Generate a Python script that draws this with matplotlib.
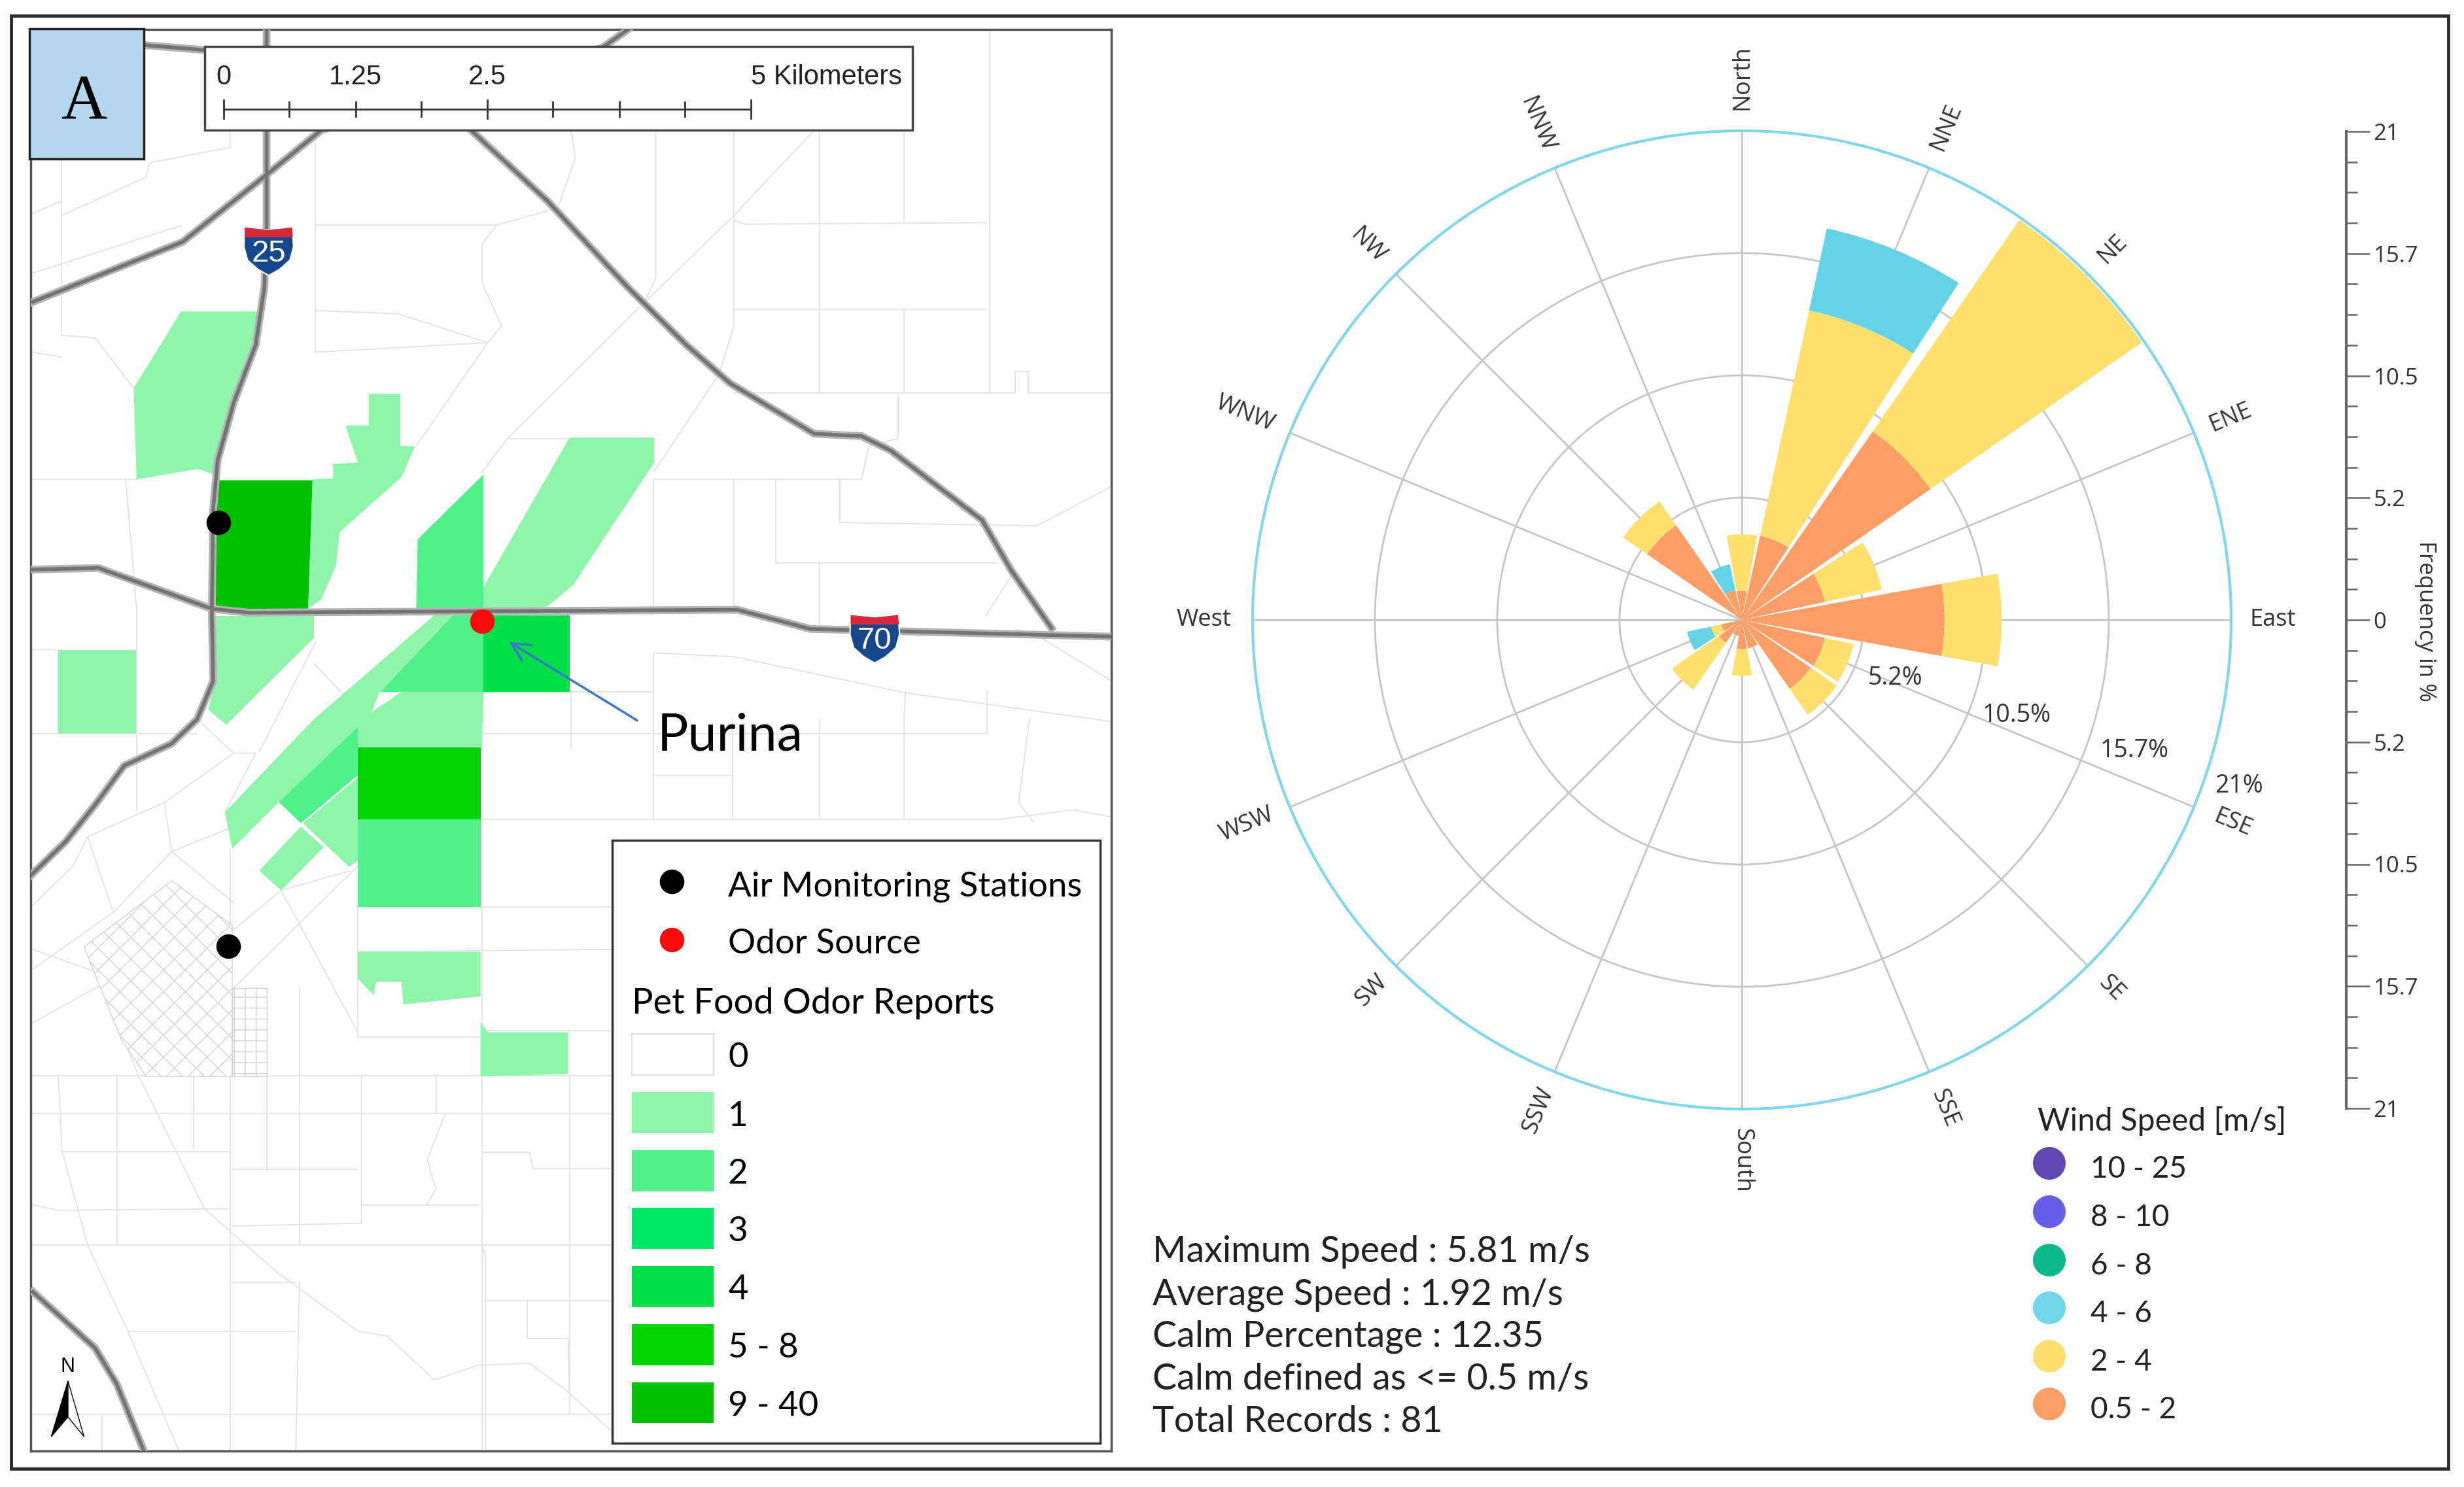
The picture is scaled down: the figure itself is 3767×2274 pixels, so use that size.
import numpy as np
import matplotlib
matplotlib.use('Agg')
import matplotlib.pyplot as plt
from matplotlib.patches import Polygon, Rectangle, Circle

W, H = 3767, 2274

# wind rose, percent per direction class, clockwise from north
DIRECTIONS = ['North', 'NNE', 'NE', 'ENE', 'East', 'ESE', 'SE', 'SSE',
              'South', 'SSW', 'SW', 'WSW', 'West', 'WNW', 'NW', 'NNW']
SPEED_05_2 = [1.25, 3.7, 9.85, 3.65, 8.7, 3.65, 3.6, 1.25, 1.25, 0.7, 1.2, 0.9, 0, 0, 4.95, 1.3]
SPEED_2_4 = [2.42, 9.9, 11.05, 2.5, 2.45, 1.25, 1.35, 0, 1.15, 0, 2.45, 0.45, 0, 0, 1.25, 0]
SPEED_4_6 = [0, 3.6, 0, 0, 0, 0, 0, 0, 0, 0, 0, 1.05, 0, 0, 0, 1.15]
RINGS = [5.25, 10.5, 15.75, 21]
RING_LABELS = ['5.2%', '10.5%', '15.7%', '21%']
FREQ_TICKS = [21, 15.75, 10.5, 5.25, 0, -5.25, -10.5, -15.75, -21]
FREQ_LABELS = ['21', '15.7', '10.5', '5.2', '0', '5.2', '10.5', '15.7', '21']
WIND_CLASSES = ['10 - 25', '8 - 10', '6 - 8', '4 - 6', '2 - 4', '0.5 - 2']
WIND_COLORS = ['#6048b0', '#6660e8', '#0cb88c', '#70d6e8', '#ffdf6e', '#ff9e66']
STATS = ['Maximum Speed : 5.81 m/s', 'Average Speed : 1.92 m/s', 'Calm Percentage : 12.35',
         'Calm defined as <= 0.5 m/s', 'Total Records : 81']

# map legend
REPORT_CLASSES = ['0', '1', '2', '3', '4', '5 - 8', '9 - 40']
C0, C1, C2, C3, C4, C5, C6 = '#ffffff', '#8ff5a8', '#52f08a', '#00e868', '#00de4a', '#00d400', '#00c000'
REPORT_COLORS = [C0, C1, C2, C3, C4, C5, C6]

# the map is kept in its own units, y grows downwards
ZONES = [
    (C1, [(248, 650), (355, 650), (348, 730), (320, 840), (300, 940), (292, 990), (272, 978), (187, 1000), (183, 810)]),
    (C6, [(298, 1002), (428, 1002), (422, 1270), (295, 1270), (295, 1100)]),
    (C1, [(505, 822), (548, 822), (548, 930), (568, 932), (550, 995), (465, 1110), (460, 1180), (440, 1250),
          (422, 1270), (428, 1000), (456, 998), (456, 968), (490, 965), (473, 888), (505, 888)]),
    (C2, [(662, 990), (662, 1270), (570, 1270), (572, 1125)]),
    (C1, [(780, 913), (896, 913), (896, 965), (785, 1220), (750, 1265), (662, 1275), (662, 1225)]),
    (C4, [(662, 1283), (780, 1283), (780, 1443), (662, 1443)]),
    (C1, [(295, 1285), (430, 1285), (430, 1330), (310, 1512), (285, 1480), (295, 1420)]),
    (C1, [(80, 1356), (186, 1356), (186, 1530), (80, 1530)]),
    (C1, [(308, 1694), (318, 1770), (382, 1673), (505, 1500), (520, 1443), (620, 1283), (595, 1283), (430, 1500)]),
    (C2, [(620, 1283), (662, 1283), (662, 1443), (520, 1443)]),
    (C2, [(505, 1495), (490, 1560), (490, 1617), (412, 1717), (382, 1673)]),
    (C1, [(490, 1622), (415, 1717), (478, 1808), (490, 1795)]),
    (C1, [(355, 1816), (385, 1857), (443, 1767), (412, 1724)]),
    (C1, [(550, 1443), (662, 1443), (660, 1559), (490, 1559), (490, 1505)]),
    (C5, [(490, 1559), (658, 1559), (658, 1709), (490, 1709)]),
    (C2, [(490, 1709), (658, 1709), (658, 1891), (490, 1891)]),
    (C1, [(490, 1985), (658, 1985), (658, 2078), (552, 2095), (550, 2048), (515, 2048), (512, 2076), (490, 2041)]),
    (C1, [(658, 2132), (668, 2153), (778, 2153), (778, 2240), (658, 2245)]),
]

HIGHWAYS = [
    [(365, 62), (365, 470), (362, 600), (350, 720), (320, 840), (298, 960), (292, 1060), (290, 1280), (292, 1420),
     (270, 1500), (235, 1551), (170, 1597), (130, 1679), (90, 1755), (42, 1826)],
    [(45, 630), (250, 505), (365, 365), (440, 272), (825, 100), (860, 62)],
    [(200, 95), (280, 105)],
    [(645, 272), (750, 420), (860, 600), (940, 720), (1000, 800), (1115, 905), (1180, 910), (1220, 940), (1345, 1085),
     (1385, 1190), (1440, 1310)],
    [(45, 1188), (135, 1185), (290, 1270), (340, 1278), (1010, 1272), (1110, 1312), (1522, 1328)],
    [(45, 2694), (130, 2811), (160, 2887), (197, 3026)],
]

ROADS = [
    [(432, 272), (432, 735)], [(432, 470), (680, 470), (750, 440)],
    [(680, 470), (660, 510), (660, 590), (687, 680), (668, 715), (432, 735)],
    [(432, 648), (545, 655), (668, 715)], [(668, 715), (570, 930)],
    [(782, 272), (788, 330), (765, 430)], [(898, 272), (898, 580), (880, 640)],
    [(1115, 272), (1005, 450), (870, 650), (695, 915), (660, 985)], [(695, 915), (780, 915)],
    [(1005, 272), (1005, 680), (985, 780), (895, 985)], [(1005, 460), (1020, 468), (1352, 465)],
    [(1005, 645), (1352, 645)], [(1122, 272), (1122, 820)], [(1238, 272), (1238, 465)], [(1238, 645), (1238, 820)],
    [(1355, 62), (1355, 820)],
    [(1005, 820), (1390, 820), (1390, 775), (1408, 775), (1408, 820), (1522, 820)],
    [(895, 1000), (1180, 1000), (1190, 930), (1230, 915), (1230, 820)],
    [(1062, 1000), (1062, 1175), (1365, 1175)], [(1150, 1000), (1150, 1090), (1420, 1097), (1522, 1015)],
    [(895, 1000), (895, 1272)], [(1005, 1000), (1005, 1272)], [(1122, 1175), (1122, 1312)], [(1350, 1285), (1390, 1190)],
    [(45, 1000), (187, 1000)], [(172, 1000), (187, 1270)], [(45, 1355), (80, 1355)], [(187, 1272), (187, 1690)],
    [(84, 62), (84, 700), (130, 705), (183, 810)], [(45, 735), (84, 745)],
    [(84, 450), (200, 370), (205, 340), (315, 308), (315, 272)], [(45, 445), (84, 420)], [(45, 570), (250, 470)],
    [(315, 100), (315, 272)], [(45, 1530), (80, 1530)], [(190, 1530), (270, 1530)],
    [(430, 1385), (500, 1495)], [(432, 1340), (355, 1568)],
    [(1522, 1420), (1420, 1325)], [(895, 1362), (1005, 1370), (1240, 1445), (1522, 1505)],
    [(782, 1443), (782, 1560)], [(660, 1443), (895, 1443)], [(895, 1362), (895, 1709)],
    [(660, 1531), (1352, 1531)], [(660, 1709), (1370, 1709), (1470, 1689), (1522, 1704)], [(897, 1617), (1003, 1617)],
    [(1003, 1500), (1003, 1709)], [(1122, 1500), (1122, 1709)], [(1238, 1500), (1238, 1709)], [(1352, 1440), (1352, 1531)],
    [(1410, 1500), (1395, 1674), (1415, 1714)], [(1240, 1445), (1238, 1500)],
    [(490, 1891), (838, 1891)], [(490, 1985), (838, 1980)], [(658, 2150), (838, 2150)], [(490, 1891), (490, 2163)],
    [(490, 2163), (658, 2163)], [(660, 1891), (660, 3026)],
    [(45, 2243), (838, 2243)], [(45, 2322), (838, 2322)], [(85, 2401), (315, 2401)],
    [(660, 2403), (725, 2403), (730, 2437), (838, 2437)], [(45, 2513), (80, 2524), (315, 2521)], [(495, 2513), (655, 2513)],
    [(45, 2597), (838, 2597)], [(315, 1770), (315, 3026)], [(160, 2245), (160, 2597)], [(265, 2245), (265, 2398)],
    [(365, 2245), (365, 2439)], [(318, 2439), (490, 2439)], [(410, 2061), (410, 2597)], [(410, 2674), (405, 3026)],
    [(495, 2245), (495, 2551), (318, 2557)], [(597, 2245), (597, 2322)], [(610, 2322), (585, 2419), (597, 2480), (585, 2511)],
    [(80, 2245), (85, 2401), (120, 2597), (175, 2776), (245, 3026)],
    [(160, 2133), (190, 2245), (280, 2521), (380, 2654), (490, 2776), (530, 2786), (595, 2878), (655, 2847), (725, 2843),
     (775, 2899), (838, 2985)],
    [(175, 2776), (405, 2776)], [(315, 2674), (405, 2674)], [(660, 2597), (665, 2623), (665, 3026)],
    [(665, 2712), (838, 2712)], [(722, 2712), (722, 2791), (778, 2791), (780, 2929)], [(780, 2245), (780, 2950)],
    [(45, 2950), (838, 2950)], [(140, 2950), (140, 3026)],
    [(45, 1888), (100, 1806), (120, 1745), (180, 1704), (225, 1674), (320, 1571), (270, 1500)],
    [(225, 1674), (235, 1776), (320, 1724)], [(235, 1776), (155, 1903), (45, 2021)], [(120, 1745), (155, 1903)],
    [(235, 1776), (320, 1883)], [(320, 1939), (385, 1857), (480, 1816)], [(320, 2061), (432, 1893), (490, 1806)],
    [(385, 1857), (490, 2153)], [(320, 1571), (350, 1571), (308, 1694)], [(45, 1980), (155, 2040), (160, 2133)],
    [(45, 2133), (155, 2040)],
]
DOWNTOWN = [(115, 1975), (235, 1837), (318, 1930), (318, 2245), (200, 2245), (165, 2165)]
OLD_GRID = [(318, 2061), (365, 2061), (365, 2245), (318, 2245)]
SHIELD = [(0, 0), (33, 5), (65, 0), (67, 40), (62, 68), (48, 87), (33, 100), (18, 87), (4, 68), (-1, 40)]
SHIELD_TOPS = [(335, 475, '25'), (1165, 1283, '70')]
STATIONS = [(299, 1090), (313, 1973)]
ODOR_SOURCE = (660, 1296)

lato = 'Lato'
opensans = 'Open Sans'

fig = plt.figure(figsize=(W / 100, H / 100), dpi=100)
plt.rcParams['hatch.linewidth'] = 1.0

# page frame, stats and wind legend, in pixels
page = fig.add_axes([0, 0, 1, 1])
page.set_xlim(0, W)
page.set_ylim(H, 0)
page.axis('off')
page.add_patch(Rectangle((17, 24), 3726, 2222, fc='white', ec='#2a2a2a', lw=3.5))
for i, line in enumerate(STATS):
    page.text(1762, [1915, 1980, 2044, 2110, 2175][i], line, fontsize=40, family=lato, va='center', color='#222222')
page.text(3115, 1714, 'Wind Speed [m/s]', fontsize=34.5, family=lato, va='center', color='#222222')
for name, color, y in zip(WIND_CLASSES, WIND_COLORS, [1779, 1853, 1927, 2000, 2074, 2147]):
    page.add_patch(Circle((3133, y), 25, fc=color, ec='none'))
    page.text(3196, y + 9, name, fontsize=33, family=lato, va='center', color='#222222')
page.text(3708, 950, 'Frequency in %', fontsize=25, family=opensans, rotation=-90, ha='center', va='center', color='#333333')

# map
mp = fig.add_axes([47 / W, 1 - 2219 / H, (1699 - 47) / W, (2219 - 45) / H])
mp.set_xlim(42, 1522)
mp.set_ylim(3026, 62)
mp.set_xticks([])
mp.set_yticks([])
for s in mp.spines.values():
    s.set_color('#555555')
    s.set_linewidth(2.5)
for road in ROADS:
    xs, ys = zip(*road)
    mp.plot(xs, ys, color='#e0e0e0', lw=1.2, zorder=1, solid_capstyle='round')
mp.add_patch(Polygon(DOWNTOWN, fc='white', ec='#d2d2d2', hatch='x', lw=1, zorder=1.5))
mp.add_patch(Polygon(OLD_GRID, fc='white', ec='#d2d2d2', hatch='+', lw=1, zorder=1.5))
for color, pts in ZONES:
    mp.add_patch(Polygon(pts, fc=color, ec='none', zorder=2))
for hw in HIGHWAYS:
    xs, ys = zip(*hw)
    mp.plot(xs, ys, color='#b4b4b4', lw=8.5, zorder=3)
    mp.plot(xs, ys, color='#747474', lw=4, zorder=3.1)
for x0, y0, num in SHIELD_TOPS:
    body = [(x0 + dx, y0 + dy) for dx, dy in SHIELD]
    mp.add_patch(Polygon(body, fc='#17488c', ec='white', lw=1.5, zorder=4))
    mp.add_patch(Polygon([(x0, y0), (x0 + 33, y0 + 5), (x0 + 65, y0), (x0 + 66, y0 + 20), (x0, y0 + 20)],
                         fc='#d8263a', ec='none', zorder=4.1))
    mp.text(x0 + 33, y0 + 54, num, color='white', fontsize=34, family='Liberation Sans', ha='center', va='center', zorder=4.2)
mp.plot(*zip(*STATIONS), 'o', color='black', ms=27, mec='none', zorder=5)
mp.plot(*ODOR_SOURCE, 'o', color='#fb0a0a', ms=27, mec='none', zorder=5)
mp.annotate('', xy=(695, 1337), xytext=(875, 1505),
            arrowprops=dict(arrowstyle='->', color='#3a78c8', lw=2.5, mutation_scale=50), zorder=5)
mp.text(900, 1535, 'Purina', fontsize=57, family=lato, va='center', color='black', zorder=5)

# north arrow
mp.text(93, 2850, 'N', fontsize=22, family='Liberation Sans', ha='center', va='center', zorder=5)
mp.add_patch(Polygon([(93, 2880), (70, 2996), (93, 2955)], fc='black', ec='black', lw=1, zorder=5))
mp.add_patch(Polygon([(93, 2880), (115, 2996), (93, 2955)], fc='white', ec='black', lw=1, zorder=5))

# blue A box and scale bar
mp.add_patch(Rectangle((40, 60), 157, 272, fc='#b4d7ee', ec='#222222', lw=2.5, zorder=6, clip_on=False))
mp.text(116, 215, 'A', fontsize=70, family='Liberation Serif', ha='center', va='center', zorder=6.1)
mp.add_patch(Rectangle((280, 98), 970, 174, fc='white', ec='#444444', lw=2.5, zorder=6))
scale_x = [306, 396, 487, 577, 667, 757, 848, 938, 1028]
mp.plot([scale_x[0], scale_x[-1]], [228, 228], color='#333333', lw=2, zorder=6.1)
for i, x in enumerate(scale_x):
    half = 19 if i % 4 == 0 else 15
    mp.plot([x, x], [228 - half, 228 + half], color='#333333', lw=2, zorder=6.1)
for x, txt in zip([306, 487, 667], ['0', '1.25', '2.5']):
    mp.text(x, 162, txt, fontsize=30, family='Liberation Sans', ha='center', va='center', color='#222222', zorder=6.1)
mp.text(1235, 162, '5 Kilometers', fontsize=30, family='Liberation Sans', ha='right', va='center', color='#222222', zorder=6.1)

# map legend
mp.add_patch(Rectangle((838, 1752), 669, 1257, fc='white', ec='#333333', lw=2.5, zorder=7))
leg_y = lambda v: 1500 + 1.0209 * v
mp.plot(920, leg_y(331), 'o', color='black', ms=27, mec='none', zorder=7.1)
mp.plot(920, leg_y(450), 'o', color='#fb0a0a', ms=27, mec='none', zorder=7.1)
mp.text(997, leg_y(342), 'Air Monitoring Stations', fontsize=38, family=lato, va='center', zorder=7.1)
mp.text(997, leg_y(459), 'Odor Source', fontsize=38, family=lato, va='center', zorder=7.1)
mp.text(865, leg_y(581), 'Pet Food Odor Reports', fontsize=39, family=lato, va='center', zorder=7.1)
swatch_tops = [643, 762, 880, 998, 1117, 1236, 1354]
for top, color, name in zip(swatch_tops, REPORT_COLORS, REPORT_CLASSES):
    mp.add_patch(Rectangle((865, leg_y(top)), 112, 84 * 1.0209, fc=color, ec='#dddddd' if color == C0 else 'none',
                           lw=1.5, zorder=7.1))
    mp.text(997, leg_y(top + 49), name, fontsize=38, family=lato, va='center', zorder=7.1)

# wind rose
cx, cy, R = 2663, 948, 748
rose = fig.add_axes([(cx - R) / W, 1 - (cy + R) / H, 2 * R / W, 2 * R / H], projection='polar')
rose.set_facecolor('none')
rose.set_theta_zero_location('N')
rose.set_theta_direction(-1)
theta = np.deg2rad(np.arange(16) * 22.5)
bar_w = np.deg2rad(20.5)
orange, yellow, blue = np.array(SPEED_05_2), np.array(SPEED_2_4), np.array(SPEED_4_6)
rose.bar(theta, orange, width=bar_w, color=WIND_COLORS[5], zorder=3)
rose.bar(theta, yellow, width=bar_w, bottom=orange, color=WIND_COLORS[4], zorder=3)
rose.bar(theta, blue, width=bar_w, bottom=orange + yellow, color='#66d2e6', zorder=3)
rose.set_ylim(0, 21)
rose.set_rgrids(RINGS, labels=[''] * 4)
rose.set_thetagrids(np.arange(16) * 22.5, labels=[''] * 16)
rose.grid(True, color='#c6c6c6', lw=2)
rose.set_axisbelow(True)
rose.spines['polar'].set_color('#80d6ee')
rose.spines['polar'].set_linewidth(3)
rotations = [90, 67.5, 45, 22.5, 0, -22.5, -45, -67.5, -90, 67.5, 45, 22.5, 0, -22.5, -45, -67.5]
label_r = [23.3, 22.9, 22.5, 22.7, 22.8, 22.8, 22.4, 22.7, 23.2, 22.8, 22.5, 23.0, 23.1, 23.1, 22.7, 23.0]
for t, name, rot, r in zip(theta, DIRECTIONS, rotations, label_r):
    rose.text(t, r, name, rotation=rot, rotation_mode='anchor', ha='center', va='center', fontsize=26,
              family=opensans, color='#333333', clip_on=False)
for name, t, r in zip(RING_LABELS, [110.7, 109.2, 108.4, 108.5], [7.05, 12.5, 17.75, 22.5]):
    rose.text(np.deg2rad(t), r, name, ha='center', va='center', fontsize=27, family=opensans, color='#333333', clip_on=False)

# frequency scale
freq = fig.add_axes([3586 / W, 1 - 1695 / H, 1 / W, (1695 - 201) / H])
freq.set_facecolor('none')
for k in ['top', 'left', 'bottom']:
    freq.spines[k].set_visible(False)
freq.spines['right'].set_color('#666666')
freq.spines['right'].set_linewidth(3)
freq.set_xticks([])
freq.set_ylim(-21, 21)
freq.yaxis.tick_right()
freq.set_yticks(FREQ_TICKS)
freq.set_yticklabels(FREQ_LABELS, fontsize=25, family=opensans, color='#333333')
freq.set_yticks([v * 21 / 16 for v in range(-16, 17) if v % 4], minor=True)
freq.tick_params(axis='y', which='major', length=26, width=1.8, color='#666666', pad=4)
freq.tick_params(axis='y', which='minor', length=12, width=1.8, color='#666666')

fig.savefig('out.png', dpi=100)
